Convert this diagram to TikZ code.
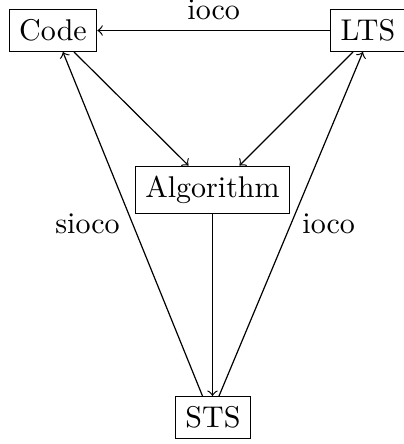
\documentclass[tikz,border=0pt]{standalone}
\usetikzlibrary{arrows}
\begin{document}
\begin{tikzpicture}[x=0.3333pt,y=-0.3333pt,
  box/.style={draw, inner sep=3.33pt},
  link/.style={->}]
\useasboundingbox (0,0) rectangle (403,444);
\node[box] (code) at (53,30.5) {Code};
\node[box] (lts) at (368,30.5) {LTS};
\node[box] (algo) at (212.5,190) {Algorithm};
\node[box] (sts) at (213,417.5) {STS};

\draw[link] (lts) -- node[above] {ioco} (code);
\draw[link] ([xshift=7pt]code.south) -- ([xshift=-8pt]algo.north);
\draw[link] ([xshift=-5pt]lts.south) -- ([xshift=9pt]algo.north);
\draw[link] (algo.south) -- (algo.south |- sts.north);
\draw[link] ([xshift=-3.5pt]sts.north) -- node[left=0.8pt, pos=0.5] {sioco} ([xshift=3.3pt]code.south);
\draw[link] ([xshift=2pt]sts.north) -- node[right=0.3pt, pos=0.5] {ioco} ([xshift=-1.7pt]lts.south);
\end{tikzpicture}
\end{document}
